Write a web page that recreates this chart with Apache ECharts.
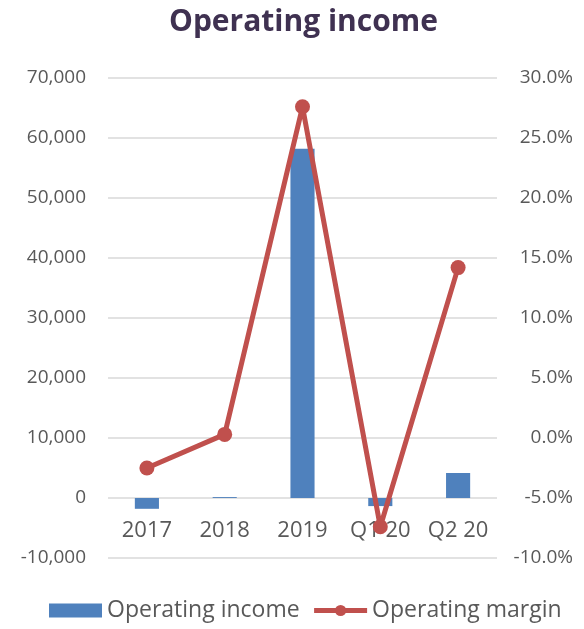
<!DOCTYPE html>
<html>
<head>
<meta charset="utf-8">
<script src="https://cdn.jsdelivr.net/npm/echarts@6/dist/echarts.min.js"></script>
<style>
  html, body { margin: 0; padding: 0; background: #fff; }
  #chart { width: 584px; height: 629px; }
</style>
</head>
<body>
<div id="chart"></div>
<script>
const categories = ['2017', '2018', '2019', 'Q1 20', 'Q2 20'];
const operatingIncome = [-1800, 150, 58200, -1350, 4170];
const operatingMargin = [-2.5, 0.3, 27.6, -7.4, 14.2];

const labelFont = '"Open Sans", "Noto Sans", sans-serif';
const chart = echarts.init(document.getElementById('chart'));

chart.setOption({
    animation: false,
    title: {
        text: 'Operating income',
        left: 164,
        top: 2,
        textStyle: { fontFamily: labelFont, fontWeight: 'bold', fontSize: 30, color: '#3F3151' }
    },
    legend: {
        bottom: 2,
        left: 44,
        itemGap: 12,
        itemWidth: 53,
        itemHeight: 14,
        textStyle: { fontFamily: labelFont, fontSize: 23, color: '#595959' },
        data: [
            { name: 'Operating income', icon: 'rect' },
            { name: 'Operating margin', lineStyle: { width: 5 }, itemStyle: { borderWidth: 0 } }
        ]
    },
    grid: { left: 108, right: 87, top: 78, bottom: 71 },
    xAxis: {
        type: 'category',
        data: categories,
        offset: -60, // sit on the zero line of the left axis
        axisLine: { show: false, onZero: false },
        axisTick: { show: false },
        axisLabel: { fontFamily: labelFont, fontSize: 22, color: '#595959', margin: 22, interval: 0 }
    },
    yAxis: [
        {
            type: 'value',
            min: -10000,
            max: 70000,
            interval: 10000,
            axisLabel: {
                fontFamily: labelFont, fontSize: 19, color: '#595959', margin: 22,
                formatter: v => v.toLocaleString('en-US')
            },
            splitLine: { lineStyle: { color: '#D9D9D9', width: 1.5 } }
        },
        {
            type: 'value',
            min: -10,
            max: 30,
            interval: 5,
            axisLabel: {
                fontFamily: labelFont, fontSize: 19, color: '#595959', margin: 76, align: 'right',
                formatter: v => v.toFixed(1) + '%'
            },
            splitLine: { show: false }
        }
    ],
    series: [
        {
            name: 'Operating income',
            type: 'bar',
            data: operatingIncome,
            barWidth: '31%',
            itemStyle: { color: '#4F81BD' }
        },
        {
            name: 'Operating margin',
            type: 'line',
            yAxisIndex: 1,
            data: operatingMargin,
            symbol: 'circle',
            symbolSize: 15,
            lineStyle: { color: '#C0504D', width: 5 },
            itemStyle: { color: '#C0504D' }
        }
    ]
});
</script>
</body>
</html>
